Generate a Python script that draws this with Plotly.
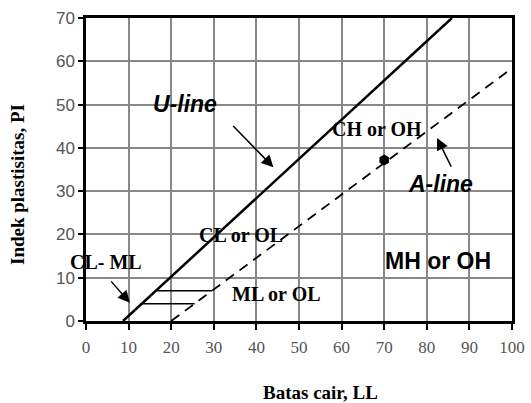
import plotly.graph_objects as go

# U-line and A-line
u_ll = [8.7, 85.9]
u_pi = [0, 70]
a_ll = [20, 100]
a_pi = [0, 58.4]
# CL-ML band
band_pi = [4, 7]
band_u_ll = [12.7, 16.1]
band_a_ll = [25.5, 29.6]
# data point
pt_ll = [70]
pt_pi = [37.2]

x_ticks = [0, 10, 20, 30, 40, 50, 60, 70, 80, 90, 100]
y_ticks = [0, 10, 20, 30, 40, 50, 60, 70]

fig = go.Figure()
fig.add_trace(go.Scatter(x=u_ll, y=u_pi, mode="lines",
                         line=dict(color="black", width=2.5), showlegend=False))
fig.add_trace(go.Scatter(x=a_ll, y=a_pi, mode="lines",
                         line=dict(color="black", width=1.8, dash="10px,7px"), showlegend=False))
for p, x0, x1 in zip(band_pi, band_u_ll, band_a_ll):
    fig.add_trace(go.Scatter(x=[x0, x1], y=[p, p], mode="lines",
                             line=dict(color="black", width=1.5), showlegend=False))
fig.add_trace(go.Scatter(x=pt_ll, y=pt_pi, mode="markers",
                         marker=dict(symbol="hexagon", size=11, color="black"), showlegend=False))

serif = "Liberation Serif"
sans = "Liberation Sans"

def txt(x, y, s, fam, size, italic=False):
    fig.add_annotation(x=x, y=y, text=("<i><b>%s</b></i>" % s) if italic else "<b>%s</b>" % s,
                       showarrow=False, font=dict(family=fam, size=size, color="black"),
                       xref="x", yref="y", xanchor="center", yanchor="middle")

txt(23.2, 50.1, "U-line", sans, 23, italic=True)
txt(68.3, 44.4, "CH or OH", serif, 20)
txt(83.3, 31.6, "A-line", sans, 23, italic=True)
txt(36.4, 19.9, "CL or OL", serif, 20)
txt(4.7, 13.6, "CL- ML", serif, 20)
txt(44.8, 6.2, "ML or OL", serif, 20)
txt(82.6, 13.9, "MH or OH", sans, 23)

def arrow(tx, ty, hx, hy):
    fig.add_annotation(x=hx, y=hy, ax=tx, ay=ty, xref="x", yref="y", axref="x", ayref="y",
                       text="", showarrow=True, arrowhead=2, arrowsize=1.6, arrowwidth=1.5,
                       arrowcolor="black")

arrow(34.2, 45.4, 44.0, 35.5)
arrow(85.9, 35.3, 82.4, 42.3)
arrow(5.6, 9.5, 10.3, 4.2)

PX0, PY0, PW, PH = 86, 321, 426, 303

def paper_x(px):
    return (px - PX0) / PW

def paper_y(py):
    return (PY0 - py) / PH

fig.add_annotation(x=paper_x(17), y=paper_y(185), xref="paper", yref="paper",
                   text="<b>Indek plastisitas, PI</b>", showarrow=False, textangle=-90,
                   xanchor="center", yanchor="middle",
                   font=dict(family=serif, size=19, color="black"))
fig.add_annotation(x=paper_x(320), y=paper_y(392), xref="paper", yref="paper",
                   text="<b>Batas cair, LL</b>", showarrow=False,
                   xanchor="center", yanchor="middle",
                   font=dict(family=serif, size=19, color="black"))

fig.update_layout(
    width=531, height=403,
    margin=dict(l=86, r=19, t=18, b=82, autoexpand=False),
    plot_bgcolor="white", paper_bgcolor="white",
    xaxis=dict(range=[0, 100], tickvals=x_ticks, showgrid=True, gridcolor="#888888", gridwidth=2,
               showline=True, linecolor="black", linewidth=2.5, mirror=True,
               ticks="outside", ticklen=6, tickwidth=2, tickcolor="black",
               zeroline=False, automargin=False, ticklabelstandoff=3,
               tickfont=dict(family=serif, size=17, color="#555555")),
    yaxis=dict(range=[0, 70], tickvals=y_ticks, showgrid=True, gridcolor="#888888", gridwidth=2,
               showline=True, linecolor="black", linewidth=2.5, mirror=True,
               ticks="outside", ticklen=5, tickwidth=2, tickcolor="black",
               zeroline=False, automargin=False,
               tickfont=dict(family=sans, size=17, color="#555555")),
)

fig.write_html("out.html", config={"displayModeBar": False},
               post_script="document.body.style.margin='0';document.body.style.overflow='hidden';")
